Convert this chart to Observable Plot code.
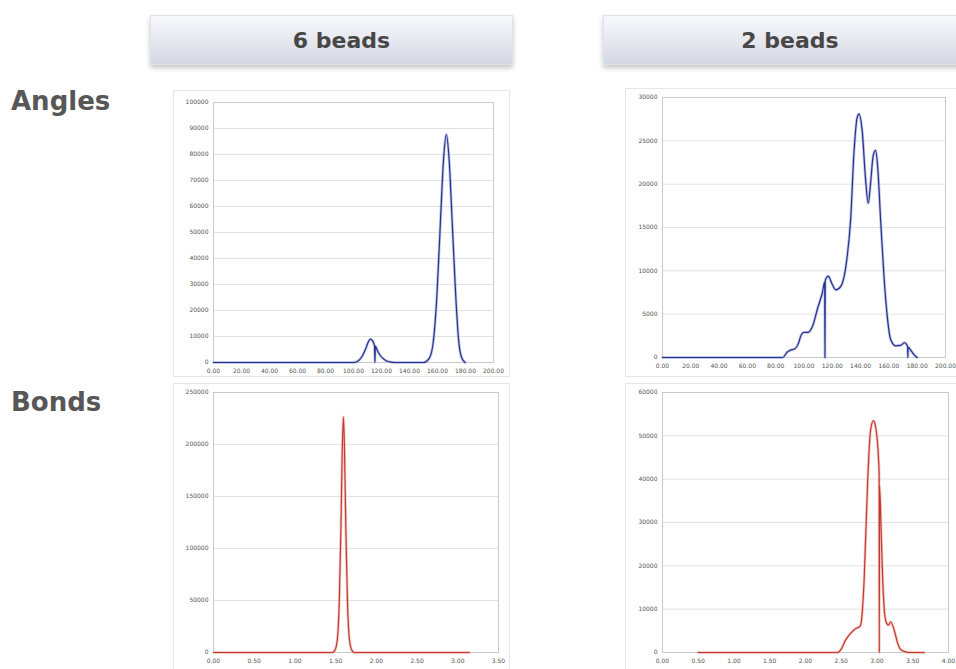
<!DOCTYPE html>
<html>
<head>
<meta charset="utf-8">
<script src="https://cdn.jsdelivr.net/npm/d3@7"></script>
<script src="https://cdn.jsdelivr.net/npm/@observablehq/plot@0.6"></script>
<style>
  html, body { margin: 0; padding: 0; background: #fff; width: 956px; height: 669px; overflow: hidden; position: relative; }
  .hdr { position: absolute; height: 50px; background: linear-gradient(#f8f9fc, #d4d8e4);
         box-shadow: 0 3px 5px rgba(0,0,0,0.22); border: 1px solid #dfe2ea; box-sizing: border-box;
         font-family: "DejaVu Sans", sans-serif; font-weight: bold; font-size: 22px; color: #474747;
         display: flex; align-items: center; justify-content: center; }
  .row { position: absolute; left: 11px; font-family: "DejaVu Sans", sans-serif; font-weight: bold;
         font-size: 26px; line-height: 30px; color: #575757; }
  .frame { position: absolute; border: 1px solid #e6e6e6; box-sizing: border-box; }
  .chart { position: absolute; }
  .chart svg { max-width: none !important; display: block; }
</style>
</head>
<body>
<div class="hdr" style="left:150px; top:15px; width:363px; padding-left:20px;">6 beads</div>
<div class="hdr" style="left:603px; top:15px; width:374px;">2 beads</div>
<div class="row" style="top:86px;">Angles</div>
<div class="row" style="top:387px;">Bonds</div>

<div class="frame" style="left:173px; top:90px; width:337px; height:287px;"></div>
<div class="frame" style="left:625px; top:88px; width:345px; height:289px;"></div>
<div class="frame" style="left:173px; top:383px; width:337px; height:300px;"></div>
<div class="frame" style="left:625px; top:383px; width:345px; height:300px;"></div>

<div class="chart" id="c1" style="left:173px; top:90px; width:337px;"></div>
<div class="chart" id="c2" style="left:625px; top:88px; width:345px;"></div>
<div class="chart" id="c3" style="left:173px; top:383px; width:337px;"></div>
<div class="chart" id="c4" style="left:625px; top:383px; width:345px;"></div>

<script>
// ---- Angles, 6 beads ----
const angles6X = [0, 100, 103, 106, 108.5, 110.5, 112, 113.5, 115, 115.3, 115.6, 117, 119, 121, 123, 126, 130,
                  150, 154, 157, 159.5, 162, 164.3, 166.3, 168.3, 170.5, 172.8, 175, 177.5, 179.8];
const angles6Y = [0, 0, 500, 2200, 5000, 7800, 9000, 8400, 6500, 0, 6300, 4700, 2800, 1600, 800, 250, 0,
                  0, 1500, 8000, 25000, 53000, 78000, 87700, 78000, 54000, 28000, 9000, 1500, 0];
const angles6XTicks = [0, 20, 40, 60, 80, 100, 120, 140, 160, 180, 200];
const angles6YTicks = [0, 10000, 20000, 30000, 40000, 50000, 60000, 70000, 80000, 90000, 100000];

// ---- Angles, 2 beads ----
const angles2X = [0, 85, 88, 90.5, 93.5, 96, 98, 100, 103, 106, 109.5, 113, 114.6, 114.8, 115, 117.2, 119.5,
                  122.5, 126, 130, 133, 135.3, 137.6, 138.9, 141.2, 143.5, 145.4, 147.1, 148.9, 150.6, 152.2,
                  154.1, 156.5, 158.8, 161.2, 164.7, 168.2, 171, 173.2, 173.4, 173.6, 176, 178.5, 180];
const angles2Y = [0, 0, 600, 850, 1000, 1600, 2600, 2900, 2900, 3600, 5600, 7500, 8700, 0, 8900, 9400, 8600,
                  7800, 8200, 11000, 16000, 23600, 27700, 28100, 26000, 20600, 17800, 20200, 23300, 23900, 21700,
                  16000, 9400, 4800, 2100, 1350, 1400, 1700, 1300, 0, 1200, 700, 200, 0];
const angles2XTicks = [0, 20, 40, 60, 80, 100, 120, 140, 160, 180, 200];
const angles2YTicks = [0, 5000, 10000, 15000, 20000, 25000, 30000];

// ---- Bonds, 6 beads ----
const bonds6X = [0, 1.46, 1.49, 1.52, 1.545, 1.565, 1.58, 1.596, 1.61, 1.625, 1.645, 1.67, 1.70, 1.73, 3.14];
const bonds6Y = [0, 0, 2000, 12000, 50000, 120000, 190000, 226500, 190000, 120000, 50000, 12000, 2000, 0, 0];
const bonds6XTicks = [0, 0.5, 1, 1.5, 2, 2.5, 3, 3.5];
const bonds6YTicks = [0, 50000, 100000, 150000, 200000, 250000];

// ---- Bonds, 2 beads ----
const bonds2X = [0.5, 2.45, 2.49, 2.56, 2.63, 2.70, 2.76, 2.78, 2.82, 2.87, 2.91, 2.95, 2.98, 3.02, 3.03, 3.032,
                 3.036, 3.06, 3.08, 3.12, 3.16, 3.19, 3.24, 3.29, 3.33, 3.40, 3.45, 3.66];
const bonds2Y = [0, 0, 540, 2850, 4400, 5500, 6000, 7000, 16700, 39800, 51300, 53500, 52100, 45000, 41000, 0,
                 38400, 27000, 16700, 7500, 6300, 7100, 5200, 2100, 700, 150, 0, 0];
const bonds2XTicks = [0, 0.5, 1, 1.5, 2, 2.5, 3, 3.5, 4];
const bonds2YTicks = [0, 10000, 20000, 30000, 40000, 50000, 60000];

const blue = "#27318c", blueGlow = "#8d97d2";
const red = "#c5382e", redGlow = "#eba39c";

function panel(xs, ys, xTicks, yTicks, core, glow, w, h, m) {
  const data = xs.map((v, i) => ({x: v, y: ys[i]}));
  return Plot.plot({
    width: w, height: h,
    marginLeft: m[0], marginRight: m[1], marginTop: m[2], marginBottom: m[3],
    style: {fontFamily: "DejaVu Sans, sans-serif", fontSize: "6px", color: "#555", background: "transparent", overflow: "visible"},
    x: {domain: [xTicks[0], xTicks[xTicks.length - 1]]},
    y: {domain: [yTicks[0], yTicks[yTicks.length - 1]]},
    marks: [
      Plot.gridY(yTicks, {stroke: "#e2e2e2", strokeOpacity: 1}),
      Plot.frame({stroke: "#c9c9c9"}),
      Plot.axisX(xTicks, {tickSize: 0, tickPadding: 6, label: null, fill: "#555", tickFormat: d3.format(".2f")}),
      Plot.axisY(yTicks, {tickSize: 0, tickPadding: 5, label: null, fill: "#555", tickFormat: d => String(d)}),
      Plot.line(data, {x: "x", y: "y", stroke: glow, strokeWidth: 2.8, strokeOpacity: 0.55, curve: "monotone-x"}),
      Plot.line(data, {x: "x", y: "y", stroke: core, strokeWidth: 1.2, curve: "monotone-x"})
    ]
  });
}

document.getElementById("c1").append(panel(angles6X, angles6Y, angles6XTicks, angles6YTicks, blue, blueGlow, 337, 287, [40, 17, 12, 15]));
document.getElementById("c2").append(panel(angles2X, angles2Y, angles2XTicks, angles2YTicks, blue, blueGlow, 345, 289, [37, 25, 9, 20]));
document.getElementById("c3").append(panel(bonds6X, bonds6Y, bonds6XTicks, bonds6YTicks, red, redGlow, 337, 300, [40, 12, 9, 31]));
document.getElementById("c4").append(panel(bonds2X, bonds2Y, bonds2XTicks, bonds2YTicks, red, redGlow, 345, 300, [37, 22, 9, 31]));
</script>
</body>
</html>
